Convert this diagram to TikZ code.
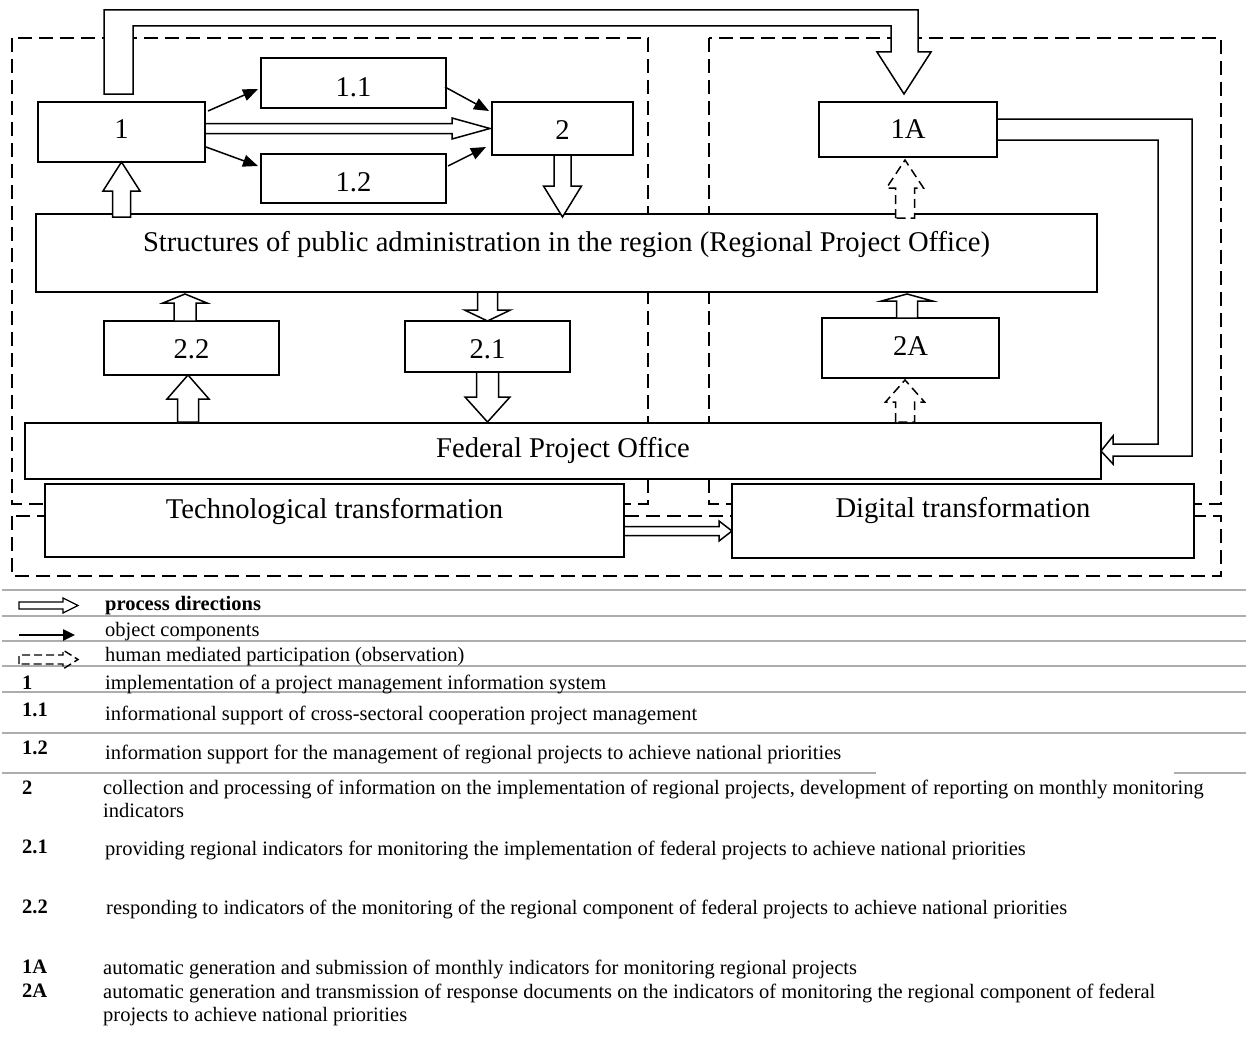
\documentclass[tikz,border=0pt]{standalone}
\usepackage{fontspec}
\setmainfont{Liberation Serif}
\usetikzlibrary{arrows.meta,calc}

% vertical block arrow: [style] tail point, tip point, shaft half-width, head half-width, head length
\newcommand\vblock[6][]{%
  \draw[blockarrow,#1] let \p1=#2, \p2=#3, \n1={sign(\y2-\y1)} in
    ({\x2-#4},\y1) -- ({\x2-#4},{\y2-\n1*#6}) -- ({\x2-#5},{\y2-\n1*#6}) -- (\x2,\y2)
    -- ({\x2+#5},{\y2-\n1*#6}) -- ({\x2+#4},{\y2-\n1*#6}) -- ({\x2+#4},\y1) -- cycle;}
% horizontal block arrow: same arguments
\newcommand\hblock[6][]{%
  \draw[blockarrow,#1] let \p1=#2, \p2=#3, \n1={sign(\x2-\x1)} in
    (\x1,{\y2+#4}) -- ({\x2-\n1*#6},{\y2+#4}) -- ({\x2-\n1*#6},{\y2+#5}) -- (\x2,\y2)
    -- ({\x2-\n1*#6},{\y2-#5}) -- ({\x2-\n1*#6},{\y2-#4}) -- (\x1,{\y2-#4}) -- cycle;}

\newcommand\diagfont{\fontsize{28.6}{32}\selectfont}
\newcommand\legfont{\fontsize{20.5}{24}\selectfont}

\begin{document}
\begin{tikzpicture}[x=1pt,y=-1pt,
  frame/.style={draw,dash pattern=on 14pt off 7pt,line width=1.5pt},
  box/.style={draw,fill=white,line width=1.5pt,inner sep=0pt,outer sep=0pt},
  caption/.style={inner sep=0pt,font=\diagfont},
  blockarrow/.style={draw,fill=white,line width=1.5pt,line join=miter},
  mediated/.style={dash pattern=on 9pt off 5pt},
  component/.style={line width=1.5pt,-{Triangle[length=15pt,width=12pt]}},
  rule/.style={draw=black!32,line width=1.8pt},
  legend/.style={anchor=base west,inner sep=0pt,font=\legfont},
  tag/.style={anchor=base west,inner sep=0pt,font=\legfont\bfseries}
]
\useasboundingbox (0,0) rectangle (1248,1057);

% dashed groupings
\draw[frame] (12,38) rectangle (648,504);
\draw[frame] (709,38) rectangle (1221,504);
\draw[frame] (12,516) rectangle (1221,576);

% blocks and their captions
\node[box,minimum width=167pt,minimum height=60pt] (b1)  at (121.5,132) {};
\node[caption] (b1text) at ($(b1.center)+(0,-3)$) {1};
\node[box,minimum width=185pt,minimum height=50pt] (b11) at (353.5,83) {};
\node[caption] (b11text) at ($(b11.center)+(0,4)$) {1.1};
\node[box,minimum width=185pt,minimum height=49pt] (b12) at (353.5,178.5) {};
\node[caption] (b12text) at ($(b12.center)+(0,4)$) {1.2};
\node[box,minimum width=141pt,minimum height=53pt] (b2)  at (562.5,128.5) {};
\node[caption] (b2text) at ($(b2.center)+(0,1.5)$) {2};
\node[box,minimum width=178pt,minimum height=55pt] (b1A) at (908,129.5) {};
\node[caption] (b1Atext) at (b1A.center) {1A};
\node[box,minimum width=1061pt,minimum height=78pt] (S) at (566.5,253) {};
\node[caption] (Stext) at ($(S.center)+(0,-8)$) {Structures of public administration in the region (Regional Project Office)};
\node[box,minimum width=175pt,minimum height=54pt] (b22) at (191.5,348) {};
\node[caption] (b22text) at ($(b22.center)+(0,1)$) {2.2};
\node[box,minimum width=165pt,minimum height=51pt] (b21) at (487.5,346.5) {};
\node[caption] (b21text) at ($(b21.center)+(0,2.5)$) {2.1};
\node[box,minimum width=177pt,minimum height=60pt] (b2A) at (910.5,348) {};
\node[caption] (b2Atext) at ($(b2A.center)+(0,-2)$) {2A};
\node[box,minimum width=1076pt,minimum height=56pt] (F) at (563,451) {};
\node[caption] (Ftext) at ($(F.center)+(0,-1)$) {Federal Project Office};
\node[box,minimum width=579pt,minimum height=73pt] (T) at (334.5,520.5) {};
\node[caption] (Ttext) at ($(T.center)+(0,-9)$) {Technological transformation};
\node[box,minimum width=462pt,minimum height=74pt] (D) at (963,521) {};
\node[caption] (Dtext) at ($(D.center)+(0,-10)$) {Digital transformation};

% object components
\draw[component] ($(b1.north east)+(3,9)$) -- ($(b11.west)+(-3,6)$);
\draw[component] ($(b1.south east)+(1,-15)$) -- ($(b12.west)+(-3,-12.5)$);
\draw[component] ($(b11.east)+(-1,4)$) -- ($(b2.north west)+(-3,9)$);
\draw[component] ($(b12.east)+(2,-12.5)$) -- ($(b2.south west)+(-6,-8)$);

% process directions
\hblock{($(b1.east)+(0,-3)$)}{($(b2.west)+(-2,0)$)}{5pt}{10.5pt}{38pt}
\hblock{(T.east)}{($(D.west)+(0,10)$)}{4.5pt}{10pt}{13pt}
\vblock{($(b1.south|-S.north)+(0,3)$)}{(b1.south)}{9pt}{18.5pt}{29pt}
\vblock{(b2.south)}{($(b2.south|-S.north)+(0,3)$)}{8.5pt}{19pt}{31pt}
\vblock{(b21.north|-S.south)}{(b21.north)}{10pt}{23pt}{11pt}
\vblock{(b21.south)}{($(b21.south|-F.north)+(0,-1)$)}{11pt}{22.5pt}{25pt}
\vblock{($(b22.north)+(-6.5,0)$)}{($(b22.north|-S.south)+(-6.5,2)$)}{11pt}{22pt}{9pt}
\vblock{($(b22.south|-F.north)+(-3.5,-1)$)}{($(b22.south)+(-3.5,0)$)}{10.5pt}{21pt}{24pt}
\vblock{($(b2A.north)+(-3.5,0)$)}{($(b2A.north|-S.south)+(-3.5,2)$)}{10.5pt}{25.5pt}{7pt}

% human mediated participation
\vblock[mediated]{($(b2A.south|-F.north)+(-5.5,-1)$)}{($(b2A.south)+(-5.5,2)$)}{9.5pt}{19.5pt}{22pt}
\vblock[mediated]{($(b1A.south|-S.north)+(-3,4)$)}{($(b1A.south)+(-3,3)$)}{9.5pt}{18.5pt}{28pt}

% from 1 over the top into 1A
\draw[blockarrow] let \p1=(b1.north), \p2=(b1A.north) in
  ({\x1-17.5pt},{\y1+8pt}) -- ({\x1-17.5pt},{\y1+92pt}) -- ({\x2+10pt},{\y1+92pt})
  -- ({\x2+10pt},{\y2+50pt}) -- ({\x2+23pt},{\y2+50pt}) -- ({\x2-4pt},{\y2+8pt})
  -- ({\x2-31pt},{\y2+50pt}) -- ({\x2-17pt},{\y2+50pt}) -- ({\x2-17pt},{\y1+76pt})
  -- ({\x1+11.5pt},{\y1+76pt}) -- ({\x1+11.5pt},{\y1+8pt}) -- cycle;

% from 1A down the right side into the Federal Project Office
\draw[blockarrow] let \p1=(b1A.east), \p2=(F.east) in
  (\x1,{\y1+10.5pt}) -- ({\x1+195pt},{\y1+10.5pt}) -- ({\x1+195pt},{\y2-5pt})
  -- ({\x2+12pt},{\y2-5pt}) -- ({\x2+12pt},{\y2-13pt}) -- (\x2,\y2)
  -- ({\x2+12pt},{\y2+15pt}) -- ({\x2+12pt},{\y2+7pt}) -- ({\x2+57pt},{\y2+7pt})
  -- ({\x2+57pt},{\y1-10.5pt}) -- (\x1,{\y1-10.5pt}) -- cycle;

% legend rules
\foreach \yy in {590,616,641,666,692,733}{\draw[rule] (2,\yy) -- (1246,\yy);}
\draw[rule] (2,773) -- (876,773);
\draw[rule] (1174,773) -- (1246,773);

% legend symbols
\draw[line width=1.2pt] (19,602) -- (63,602) -- (63,598) -- (78,605.5) -- (63,613) -- (63,609) -- (19,609) -- cycle;
\draw[line width=2.5pt,-{Triangle[length=12pt,width=11pt]}] (19,635) -- (75,635);
\draw[line width=1.4pt,dash pattern=on 8pt off 4pt] (19,664) -- (19,655) -- (63,655) -- (63,650) -- (78,659.5) -- (63,669) -- (63,664) -- cycle;

% legend texts
\node[tag] (lp) at (105,610) {process directions};
\node[legend] (lo) at (105,636) {object components};
\node[legend] (lh) at (105,661) {human mediated participation (observation)};
\node[tag] (k1) at (22,689) {1};
\node[legend] (t1) at (105,689) {implementation of a project management information system};
\node[tag] (k11) at (22,716) {1.1};
\node[legend] (t11) at (105,720) {informational support of cross-sectoral cooperation project management};
\node[tag] (k12) at (22,754) {1.2};
\node[legend] (t12) at (105,759) {information support for the management of regional projects to achieve national priorities};
\node[tag] (k2) at (22,794) {2};
\node[legend] (t2a) at (103,794) {collection and processing of information on the implementation of regional projects, development of reporting on monthly monitoring};
\node[legend] (t2b) at (103,817) {indicators};
\node[tag] (k21) at (22,853) {2.1};
\node[legend] (t21) at (105,855) {providing regional indicators for monitoring the implementation of federal projects to achieve national priorities};
\node[tag] (k22) at (22,913) {2.2};
\node[legend] (t22) at (106,914) {responding to indicators of the monitoring of the regional component of federal projects to achieve national priorities};
\node[tag] (k1A) at (22,973) {1A};
\node[legend] (t1A) at (103,974) {automatic generation and submission of monthly indicators for monitoring regional projects};
\node[tag] (k2A) at (22,997) {2A};
\node[legend] (t2Aa) at (103,998) {automatic generation and transmission of response documents on the indicators of monitoring the regional component of federal};
\node[legend] (t2Ab) at (103,1021) {projects to achieve national priorities};
\end{tikzpicture}
\end{document}
